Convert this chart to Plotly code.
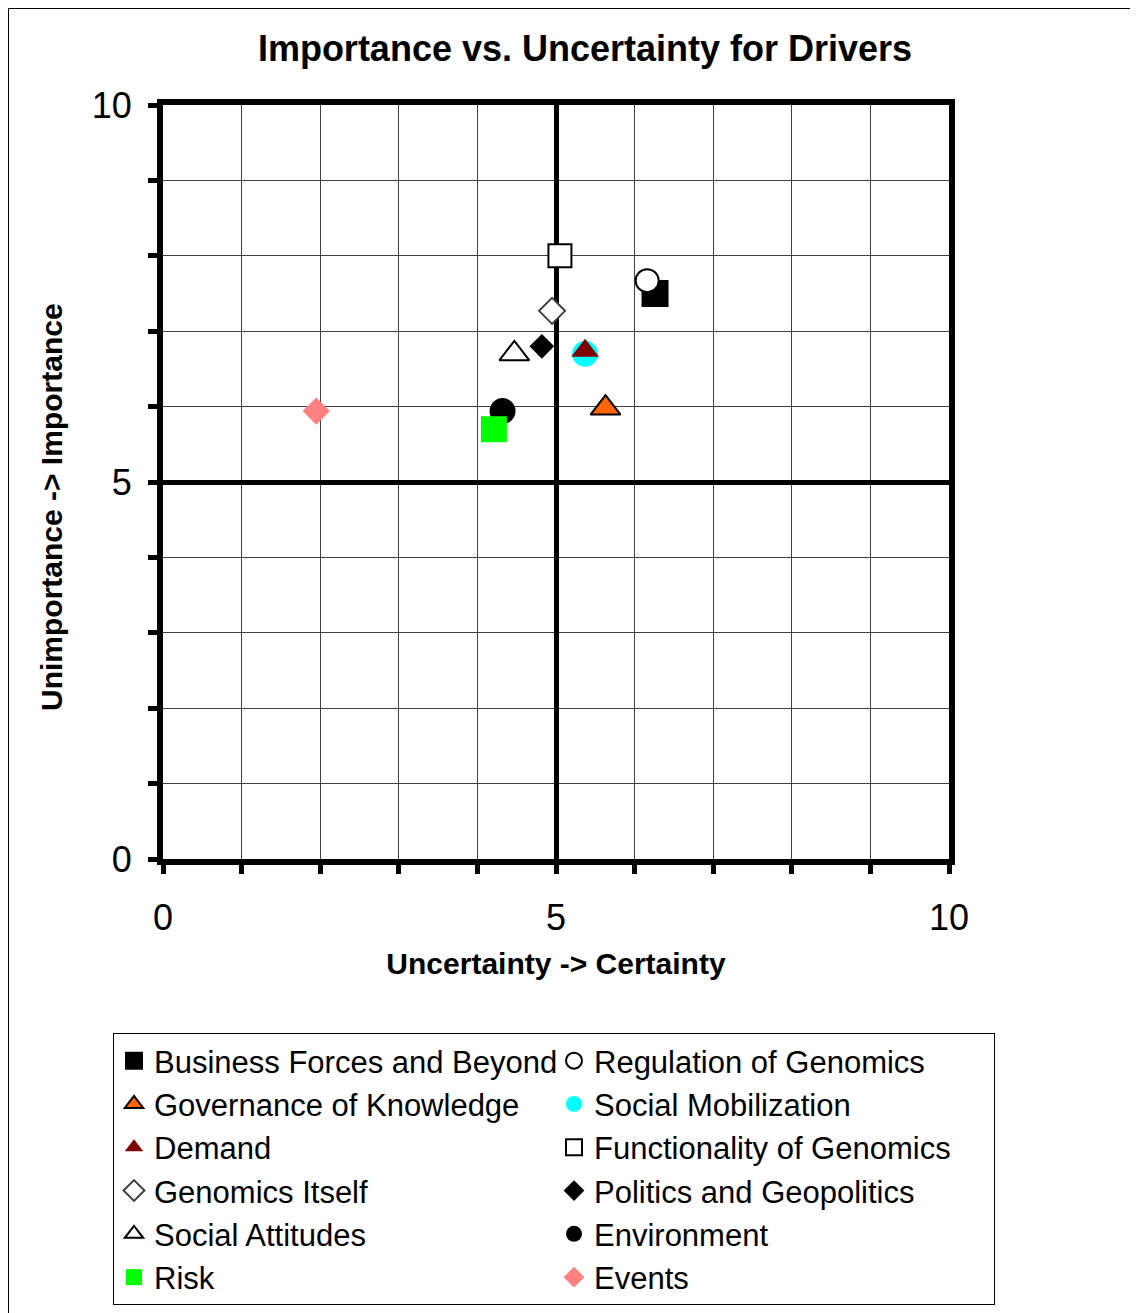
import plotly.graph_objects as go

# ---- data ----
names = ["Business Forces and Beyond", "Regulation of Genomics", "Governance of Knowledge",
         "Social Mobilization", "Demand", "Functionality of Genomics", "Genomics Itself",
         "Politics and Geopolitics", "Social Attitudes", "Environment", "Risk", "Events"]
certainty = [6.26, 6.16, 5.63, 5.37, 5.37, 5.05, 4.95, 4.82, 4.47, 4.32, 4.21, 1.95]
importance = [7.50, 7.67, 5.98, 6.70, 6.74, 8.00, 7.27, 6.80, 6.70, 5.94, 5.70, 5.94]

symbols = ["square", "circle", "triangle-up", "circle", "triangle-up", "square",
           "diamond", "diamond", "triangle-up", "circle", "square", "diamond"]
fills = ["#000000", "#FFFFFF", "#FF6600", "#00FFFF", "#800000", "#FFFFFF",
         "#FFFFFF", "#000000", "#FFFFFF", "#000000", "#00FF00", "#FF8080"]
edges = ["#000000", "#000000", "#000000", "#00FFFF", "#800000", "#000000",
         "#404040", "#000000", "#000000", "#000000", "#00FF00", "#FF8080"]
edge_w = [2, 2, 2, 0, 0, 2, 2, 0, 2, 0, 0, 0]
sizes = [25, 23, 26, 26, 24, 23, 20, 19, 26, 26, 26, 21]

FONT = "Arial, Liberation Sans, sans-serif"

fig = go.Figure()
for i, n in enumerate(names):
    fig.add_trace(go.Scatter(
        x=[certainty[i]], y=[importance[i]], mode="markers", name=n,
        marker=dict(symbol=symbols[i], color=fills[i], size=sizes[i],
                    line=dict(color=edges[i], width=edge_w[i])),
        cliponaxis=False,
    ))

OFF = 8  # page body margin
W, H = 1130, 1305
L, T = 163 - OFF, 105 - OFF
pw, ph = 786, 754
R, B = W - L - pw, H - T - ph

def px_x(p):  # page pixel -> paper x
    return (p - OFF - L) / pw

def px_y(p):  # page pixel -> paper y
    return (T + ph - (p - OFF)) / ph

axis_common = dict(
    range=[0, 10], dtick=5, tick0=0,
    showline=True, linewidth=6, linecolor="black", mirror=True,
    showgrid=True, gridcolor="black", gridwidth=5,
    zeroline=False,
    ticks="outside", ticklen=9, tickwidth=5, tickcolor="black",
    tickfont=dict(family=FONT, size=36, color="black"),
    minor=dict(dtick=1, tick0=0, showgrid=True, gridcolor="#404040", gridwidth=1,
               ticks="outside", ticklen=9, tickwidth=5, tickcolor="black"),
    fixedrange=True,
)

fig.update_layout(
    width=W, height=H,
    margin=dict(l=L, r=R, t=T, b=B, autoexpand=False),
    paper_bgcolor="white", plot_bgcolor="white",
    font=dict(family=FONT, color="black"),
    title=dict(text="<b>Importance vs. Uncertainty for Drivers</b>",
               font=dict(family=FONT, size=36, color="black"),
               x=px_x(585), xref="paper", xanchor="center",
               y=1 - (48 - OFF) / H, yref="container", yanchor="middle"),
    xaxis=dict(axis_common, ticklabelstandoff=13,
               title=dict(text="<b>Uncertainty -> Certainty</b>",
                          font=dict(family=FONT, size=30, color="black"),
                          standoff=18)),
    yaxis=dict(axis_common, ticklabelstandoff=9),
    annotations=[dict(text="<b>Unimportance -> Importance</b>", textangle=-90,
                      xref="paper", yref="paper", x=px_x(51), y=px_y(507),
                      xanchor="center", yanchor="middle", showarrow=False,
                      font=dict(family=FONT, size=30, color="black"))],
    showlegend=True,
    legend=dict(orientation="h", x=px_x(113), y=px_y(1033), xanchor="left", yanchor="top",
                xref="paper", yref="paper",
                entrywidth=395, entrywidthmode="pixels",
                bordercolor="black", borderwidth=1, bgcolor="white",
                font=dict(family=FONT, size=31, color="black"),
                traceorder="normal", itemclick=False, itemdoubleclick=False),
    shapes=[dict(type="rect", xref="paper", yref="paper",
                 x0=px_x(8.5), x1=px_x(1300), y0=px_y(8.5), y1=px_y(1500),
                 line=dict(color="black", width=1), fillcolor="rgba(0,0,0,0)",
                 layer="below")],
)

fig.write_html("out.html", config=dict(displayModeBar=False))
